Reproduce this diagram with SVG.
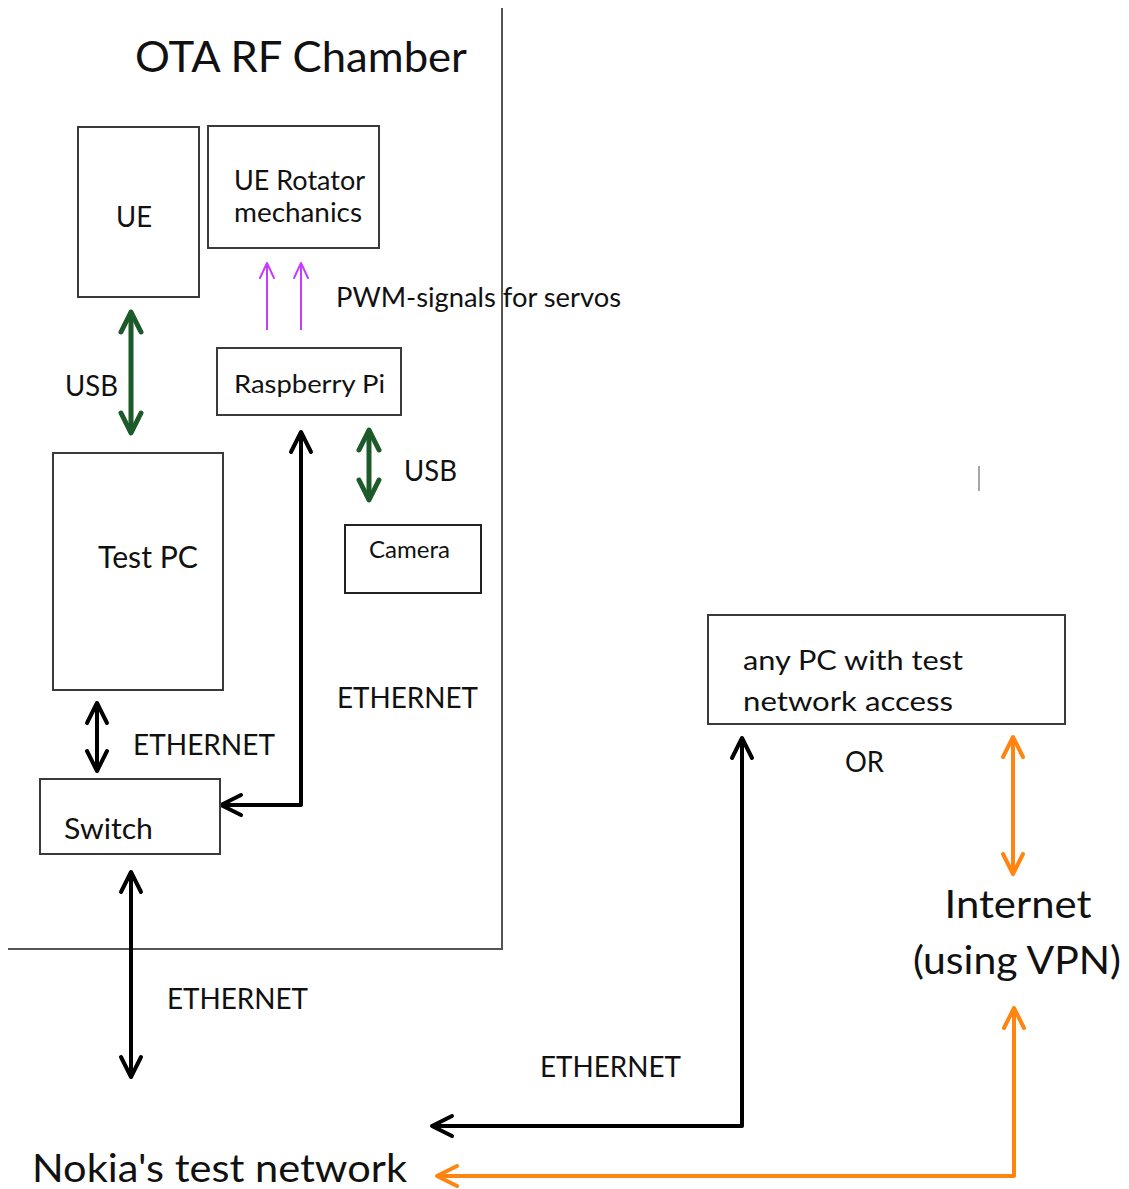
<svg xmlns="http://www.w3.org/2000/svg" width="1129" height="1189" viewBox="0 0 1129 1189">
<style>
text{font-family:Lato,"Open Sans","Liberation Sans",sans-serif;fill:#111}
.box{fill:#fff;stroke:#3a3a3a;stroke-width:2}
.wall{fill:none;stroke:#555;stroke-width:2}
.blk{fill:none;stroke:#000;stroke-width:4;stroke-linejoin:round}
.grn{fill:none;stroke:#1d5a2a;stroke-width:5}
.pur{fill:none;stroke:#c63cff;stroke-width:2}
.org{fill:none;stroke:#ff8410;stroke-width:4;stroke-linejoin:round}
</style>
<defs>
<marker id="hb" markerUnits="userSpaceOnUse" viewBox="-24 -14 28 28" refX="0" refY="0" markerWidth="28" markerHeight="28" orient="auto-start-reverse"><path d="M-20,-10 L0,0 L-20,10" fill="none" stroke="#000" stroke-width="4" stroke-linecap="round" stroke-linejoin="round"/></marker>
<marker id="hg" markerUnits="userSpaceOnUse" viewBox="-24 -14 28 28" refX="0" refY="0" markerWidth="28" markerHeight="28" orient="auto-start-reverse"><path d="M-20,-10 L0,0 L-20,10" fill="none" stroke="#1d5a2a" stroke-width="5" stroke-linecap="round" stroke-linejoin="round"/></marker>
<marker id="hp" markerUnits="userSpaceOnUse" viewBox="-16 -10 20 20" refX="0" refY="0" markerWidth="20" markerHeight="20" orient="auto-start-reverse"><path d="M-15,-7 L0,0 L-15,7" fill="none" stroke="#c63cff" stroke-width="2" stroke-linecap="round" stroke-linejoin="round"/></marker>
<marker id="ho" markerUnits="userSpaceOnUse" viewBox="-24 -14 28 28" refX="0" refY="0" markerWidth="28" markerHeight="28" orient="auto-start-reverse"><path d="M-20,-10 L0,0 L-20,10" fill="none" stroke="#ff8410" stroke-width="4" stroke-linecap="round" stroke-linejoin="round"/></marker>
</defs>
<rect width="1129" height="1189" fill="#fff"/>
<g id="chamber">
<path class="wall" d="M502,8 V949 H8"/>
<text x="135" y="72" font-size="42" textLength="332" lengthAdjust="spacingAndGlyphs">OTA RF Chamber</text>
</g>
<g id="connectors">
<line class="pur" x1="267" y1="330" x2="267" y2="263" marker-end="url(#hp)"/>
<line class="pur" x1="301" y1="330" x2="301" y2="263" marker-end="url(#hp)"/>
<line class="grn" x1="131" y1="312" x2="131" y2="433" marker-start="url(#hg)" marker-end="url(#hg)"/>
<line class="grn" x1="369" y1="430" x2="369" y2="500" marker-start="url(#hg)" marker-end="url(#hg)"/>
<polyline class="blk" points="301,432 301,805 221,805" marker-start="url(#hb)" marker-end="url(#hb)"/>
<line class="blk" x1="97" y1="703" x2="97" y2="771" marker-start="url(#hb)" marker-end="url(#hb)"/>
<line class="blk" x1="131" y1="872" x2="131" y2="1077" marker-start="url(#hb)" marker-end="url(#hb)"/>
<polyline class="blk" points="742,738 742,1126 432,1126" marker-start="url(#hb)" marker-end="url(#hb)"/>
<line class="org" x1="1013" y1="737" x2="1013" y2="874" marker-start="url(#ho)" marker-end="url(#ho)"/>
<polyline class="org" points="1014,1008 1014,1176 437,1176" marker-start="url(#ho)" marker-end="url(#ho)"/>
<text x="336" y="307" font-size="26" textLength="285" lengthAdjust="spacingAndGlyphs">PWM-signals for servos</text>
<text x="65" y="396" font-size="29" textLength="53" lengthAdjust="spacingAndGlyphs">USB</text>
<text x="404" y="481" font-size="29" textLength="53" lengthAdjust="spacingAndGlyphs">USB</text>
<text x="337" y="708" font-size="29" textLength="141" lengthAdjust="spacingAndGlyphs">ETHERNET</text>
<text x="133" y="755" font-size="29" textLength="142" lengthAdjust="spacingAndGlyphs">ETHERNET</text>
<text x="167" y="1009" font-size="29" textLength="141" lengthAdjust="spacingAndGlyphs">ETHERNET</text>
<text x="540" y="1077" font-size="29" textLength="141" lengthAdjust="spacingAndGlyphs">ETHERNET</text>
<text x="845" y="772" font-size="28" textLength="39" lengthAdjust="spacingAndGlyphs">OR</text>
</g>
<g id="ue"><rect class="box" x="78" y="127" width="121" height="170"/><text x="116" y="227" font-size="28" textLength="36" lengthAdjust="spacingAndGlyphs">UE</text></g>
<g id="rotator"><rect class="box" x="208" y="126" width="171" height="122"/><text x="234" y="190" font-size="26" textLength="131" lengthAdjust="spacingAndGlyphs">UE Rotator</text><text x="234" y="222" font-size="26" textLength="128" lengthAdjust="spacingAndGlyphs">mechanics</text></g>
<g id="raspberry"><rect class="box" x="217" y="348" width="184" height="67" stroke-width="2.5"/><text x="234" y="393" font-size="25" textLength="151" lengthAdjust="spacingAndGlyphs">Raspberry Pi</text></g>
<g id="testpc"><rect class="box" x="53" y="453" width="170" height="237"/><text x="98" y="568" font-size="30" textLength="100" lengthAdjust="spacingAndGlyphs">Test PC</text></g>
<g id="camera"><rect class="box" x="345" y="525" width="136" height="68" stroke-width="2.5" style="stroke:#222"/><text x="369" y="558" font-size="23.5" textLength="81" lengthAdjust="spacingAndGlyphs">Camera</text></g>
<g id="switch"><rect class="box" x="40" y="779" width="180" height="75"/><text x="64" y="839" font-size="29" textLength="89" lengthAdjust="spacingAndGlyphs">Switch</text></g>
<g id="anypc"><rect class="box" x="708" y="615" width="357" height="109"/><text x="743" y="670" font-size="27" textLength="220" lengthAdjust="spacingAndGlyphs">any PC with test</text><text x="743" y="711" font-size="27" textLength="210" lengthAdjust="spacingAndGlyphs">network access</text></g>
<g id="internet"><text x="1018" y="918" font-size="39" text-anchor="middle" textLength="147" lengthAdjust="spacingAndGlyphs">Internet</text><text x="1017" y="974" font-size="39" text-anchor="middle" textLength="208" lengthAdjust="spacingAndGlyphs">(using VPN)</text></g>
<g id="nokia"><text x="32" y="1182" font-size="39" textLength="375" lengthAdjust="spacingAndGlyphs">Nokia's test network</text></g>
<line x1="979" y1="466" x2="979" y2="491" stroke="#888" stroke-width="1.5"/>
</svg>
